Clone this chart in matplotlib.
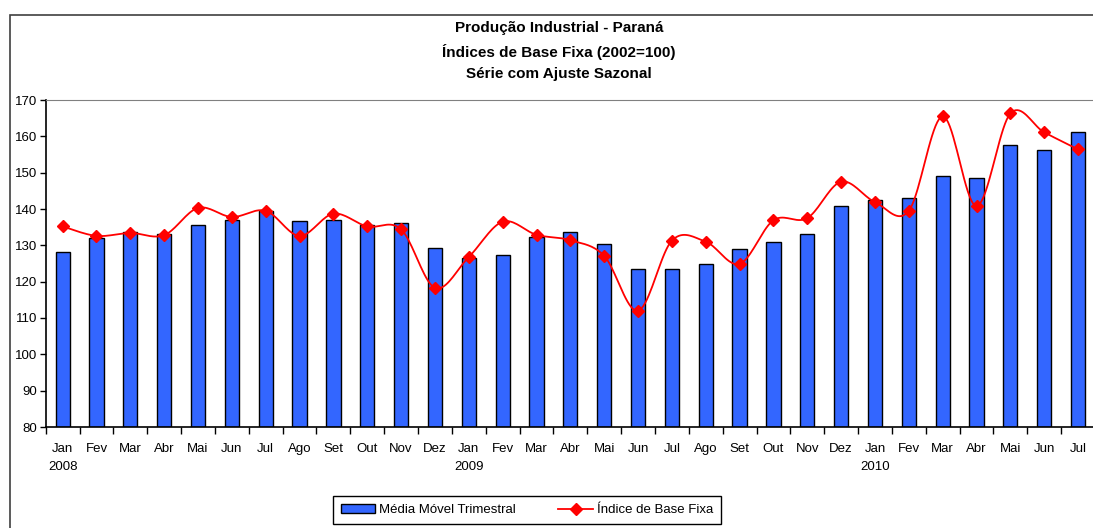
import numpy as np
import matplotlib
matplotlib.use("Agg")
import matplotlib.pyplot as plt
from matplotlib.patches import Rectangle, Patch
from matplotlib.lines import Line2D
import matplotlib.transforms as mtransforms

plt.rcParams['font.family'] = ['Liberation Sans', 'DejaVu Sans']

months = ['Jan', 'Fev', 'Mar', 'Abr', 'Mai', 'Jun', 'Jul', 'Ago', 'Set', 'Out', 'Nov', 'Dez',
          'Jan', 'Fev', 'Mar', 'Abr', 'Mai', 'Jun', 'Jul', 'Ago', 'Set', 'Out', 'Nov', 'Dez',
          'Jan', 'Fev', 'Mar', 'Abr', 'Mai', 'Jun', 'Jul']
years = {0: '2008', 12: '2009', 24: '2010'}

media_movel = [128.3, 132.1, 133.8, 133.0, 135.5, 137.1, 139.4, 136.7, 137.1, 135.6, 136.2, 129.4,
               126.5, 127.3, 132.2, 133.7, 130.5, 123.5, 123.5, 124.9, 129.0, 130.8, 133.1, 140.7,
               142.4, 143.0, 149.0, 148.6, 157.6, 156.2, 161.2]
indice_base = [135.2, 132.6, 133.4, 132.8, 140.3, 137.8, 139.5, 132.6, 138.7, 135.2, 134.4, 118.3,
               126.8, 136.5, 132.9, 131.4, 127.1, 112.0, 131.3, 131.0, 124.9, 136.9, 137.5, 147.5,
               141.9, 139.5, 165.5, 140.8, 166.3, 161.1, 156.4]

title = "Produção Industrial - Paraná\nÍndices de Base Fixa (2002=100)\nSérie com Ajuste Sazonal"


def smooth(x, y, n=20):
    # Excel-style smoothed line (Catmull-Rom bezier through the points)
    p = np.column_stack([x, y]).astype(float)
    p = np.vstack([p[0], p, p[-1]])
    out = []
    t = np.linspace(0, 1, n)[:, None]
    for i in range(1, len(p) - 2):
        p0, p3 = p[i], p[i + 1]
        c1 = p0 + (p[i + 1] - p[i - 1]) / 6
        c2 = p3 - (p[i + 2] - p[i]) / 6
        seg = (1 - t) ** 3 * p0 + 3 * (1 - t) ** 2 * t * c1 + 3 * (1 - t) * t ** 2 * c2 + t ** 3 * p3
        out.append(seg if i == 1 else seg[1:])
    out = np.vstack(out)
    return out[:, 0], out[:, 1]


W, H = 1093, 528
fig = plt.figure(figsize=(W / 100, H / 100), dpi=100)
ax = fig.add_axes([45.7 / W, 1 - 427 / H, (1095 - 45.7) / W, (427 - 100) / H])

x = np.arange(len(months))
ax.bar(x, [v - 80 for v in media_movel], bottom=80, width=0.42, color='#3366FF',
       edgecolor='black', linewidth=1.0, zorder=2)
sx, sy = smooth(x, indice_base)
ax.plot(sx, sy, color='#FF0000', lw=1.3, zorder=3)
ax.plot(x, indice_base, ls='none', marker='D', ms=6, color='#FF0000', zorder=4)

ax.set_xlim(-0.5, len(months) - 0.5)
ax.set_ylim(80, 170)
ax.set_yticks(range(80, 171, 10))
ax.tick_params(axis='y', length=4, width=1, pad=2, labelsize=9.5, direction='out')
ax.set_xticks([])
ax.set_xticks(np.arange(-0.5, len(months), 1), minor=True)
ax.tick_params(axis='x', which='minor', length=5, width=1, direction='out')

ax.spines['right'].set_visible(False)
ax.spines['top'].set_color('#808080')
ax.spines['left'].set_linewidth(1.2)
ax.spines['bottom'].set_linewidth(1.2)

tr = mtransforms.blended_transform_factory(ax.transData, fig.transFigure)
for i, m in enumerate(months):
    ax.text(i, 1 - 449 / H, m, transform=tr, ha='center', va='center', fontsize=9.5)
for i, yr in years.items():
    ax.text(i, 1 - 467 / H, yr, transform=tr, ha='center', va='center', fontsize=9.5)

fig.text(559 / W, 1 - 51 / H, title, ha='center', va='center', fontsize=11,
         fontweight='bold', linespacing=1.65)

# chart border
fig.add_artist(Rectangle((9.5 / W, -0.1), 1.2, 1.1 - 15 / H, transform=fig.transFigure,
                         fill=False, ec='#404040', lw=1.2))

handles = [Patch(facecolor='#3366FF', edgecolor='black', lw=1.0),
           Line2D([], [], color='#FF0000', lw=1.3, marker='D', ms=6)]
leg = fig.legend(handles, ['Média Móvel Trimestral', 'Índice de Base Fixa'], ncol=2,
                 loc='center', bbox_to_anchor=(527 / W, 1 - 510 / H), fontsize=9.5,
                 fancybox=False, edgecolor='black', framealpha=1, handlelength=2.6,
                 handletextpad=0.3, columnspacing=3.2, borderpad=0.6)
leg.get_frame().set_linewidth(1.0)

fig.savefig('out.png', dpi=100)
